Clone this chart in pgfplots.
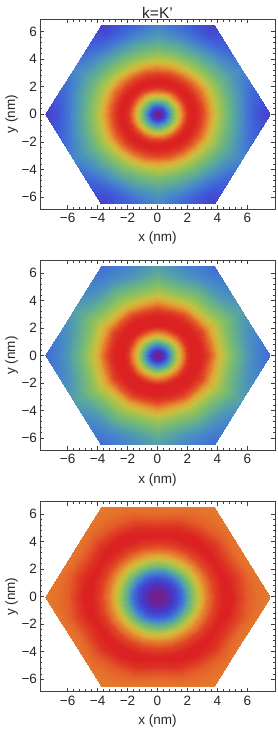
\documentclass[border=0pt]{standalone}
\usepackage{fontspec}
\setmainfont{Liberation Sans}
\usepackage{pgfplots}
\usepackage{pgfplotstable}
\pgfplotsset{compat=1.18}
\newcommand{\lbl}{\fontsize{13.5}{16}\selectfont}
\newcommand{\ttl}{\fontsize{15.5}{18}\selectfont}

\pgfplotsset{colormap={mrainbow}{rgb=(0.471,0.108,0.527) rgb=(0.282,0.212,0.776) rgb=(0.245,0.373,0.856) rgb=(0.278,0.536,0.786) rgb=(0.354,0.655,0.617) rgb=(0.472,0.731,0.447) rgb=(0.632,0.762,0.319) rgb=(0.790,0.749,0.248) rgb=(0.885,0.636,0.206) rgb=(0.898,0.419,0.167) rgb=(0.857,0.131,0.132)}}

% r (nm), angle t (deg, 0 = towards hexagon corner, 30 = towards edge midpoint), value c
\pgfplotstableread[row sep=\\]{
r t c\\
0 0 0\\ 0 15 0\\ 0 30 0\\
0.25 0 .05\\ 0.25 15 .05\\ 0.25 30 .05\\
0.5 0 .16\\ 0.5 15 .16\\ 0.5 30 .16\\
0.75 0 .31\\ 0.75 15 .31\\ 0.75 30 .31\\
1.0 0 .47\\ 1.0 15 .47\\ 1.0 30 .47\\
1.25 0 .64\\ 1.25 15 .64\\ 1.25 30 .64\\
1.5 0 .80\\ 1.5 15 .80\\ 1.5 30 .80\\
1.75 0 .92\\ 1.75 15 .92\\ 1.75 30 .92\\
2.0 0 .98\\ 2.0 15 .98\\ 2.0 30 .98\\
2.25 0 1\\ 2.25 15 1\\ 2.25 30 1\\
2.5 0 1\\ 2.5 15 1\\ 2.5 30 1\\
2.75 0 .98\\ 2.75 15 .98\\ 2.75 30 .98\\
3.0 0 .95\\ 3.0 15 .95\\ 3.0 30 .95\\
3.25 0 .90\\ 3.25 15 .90\\ 3.25 30 .90\\
3.5 0 .82\\ 3.5 15 .82\\ 3.5 30 .83\\
3.75 0 .73\\ 3.75 15 .73\\ 3.75 30 .75\\
4.0 0 .65\\ 4.0 15 .65\\ 4.0 30 .67\\
4.25 0 .58\\ 4.25 15 .58\\ 4.25 30 .60\\
4.5 0 .52\\ 4.5 15 .52\\ 4.5 30 .54\\
4.75 0 .47\\ 4.75 15 .47\\ 4.75 30 .49\\
5.0 0 .42\\ 5.0 15 .43\\ 5.0 30 .45\\
5.25 0 .37\\ 5.25 15 .39\\ 5.25 30 .41\\
5.5 0 .33\\ 5.5 15 .35\\ 5.5 30 .38\\
5.75 0 .29\\ 5.75 15 .31\\ 5.75 30 .35\\
6.0 0 .25\\ 6.0 15 .28\\ 6.0 30 .33\\
6.75 0 .16\\ 6.362 15 .24\\ 6.248 30 .31\\
7.5 0 .12\\ 6.724 15 .21\\ 6.495 30 .30\\
}\tabA

\pgfplotstableread[row sep=\\]{
r t c\\
0 0 0\\ 0 15 0\\ 0 30 0\\
0.25 0 .04\\ 0.25 15 .04\\ 0.25 30 .04\\
0.5 0 .14\\ 0.5 15 .14\\ 0.5 30 .14\\
0.75 0 .28\\ 0.75 15 .28\\ 0.75 30 .28\\
1.0 0 .44\\ 1.0 15 .44\\ 1.0 30 .44\\
1.25 0 .62\\ 1.25 15 .62\\ 1.25 30 .62\\
1.5 0 .78\\ 1.5 15 .78\\ 1.5 30 .78\\
1.75 0 .90\\ 1.75 15 .90\\ 1.75 30 .90\\
2.0 0 .97\\ 2.0 15 .97\\ 2.0 30 .97\\
2.25 0 1\\ 2.25 15 1\\ 2.25 30 1\\
2.5 0 1\\ 2.5 15 1\\ 2.5 30 1\\
2.75 0 1\\ 2.75 15 1\\ 2.75 30 1\\
3.0 0 .99\\ 3.0 15 .99\\ 3.0 30 .99\\
3.25 0 .97\\ 3.25 15 .96\\ 3.25 30 .97\\
3.5 0 .93\\ 3.5 15 .91\\ 3.5 30 .93\\
3.75 0 .86\\ 3.75 15 .84\\ 3.75 30 .87\\
4.0 0 .78\\ 4.0 15 .76\\ 4.0 30 .80\\
4.25 0 .70\\ 4.25 15 .68\\ 4.25 30 .73\\
4.5 0 .63\\ 4.5 15 .61\\ 4.5 30 .66\\
4.75 0 .57\\ 4.75 15 .55\\ 4.75 30 .60\\
5.0 0 .52\\ 5.0 15 .50\\ 5.0 30 .55\\
5.25 0 .47\\ 5.25 15 .46\\ 5.25 30 .51\\
5.5 0 .43\\ 5.5 15 .42\\ 5.5 30 .47\\
5.75 0 .39\\ 5.75 15 .38\\ 5.75 30 .44\\
6.0 0 .35\\ 6.0 15 .35\\ 6.0 30 .41\\
6.75 0 .27\\ 6.362 15 .32\\ 6.248 30 .39\\
7.5 0 .23\\ 6.724 15 .30\\ 6.495 30 .37\\
}\tabB

\pgfplotstableread[row sep=\\]{
r t c\\
0 0 0\\ 0 15 0\\ 0 30 0\\
0.25 0 .01\\ 0.25 15 .01\\ 0.25 30 .01\\
0.5 0 .03\\ 0.5 15 .03\\ 0.5 30 .03\\
0.75 0 .06\\ 0.75 15 .06\\ 0.75 30 .06\\
1.0 0 .10\\ 1.0 15 .10\\ 1.0 30 .10\\
1.25 0 .14\\ 1.25 15 .14\\ 1.25 30 .14\\
1.5 0 .20\\ 1.5 15 .20\\ 1.5 30 .20\\
1.75 0 .28\\ 1.75 15 .28\\ 1.75 30 .28\\
2.0 0 .38\\ 2.0 15 .38\\ 2.0 30 .38\\
2.25 0 .49\\ 2.25 15 .49\\ 2.25 30 .49\\
2.5 0 .60\\ 2.5 15 .60\\ 2.5 30 .60\\
2.75 0 .70\\ 2.75 15 .70\\ 2.75 30 .70\\
3.0 0 .79\\ 3.0 15 .79\\ 3.0 30 .79\\
3.25 0 .86\\ 3.25 15 .86\\ 3.25 30 .86\\
3.5 0 .91\\ 3.5 15 .91\\ 3.5 30 .91\\
3.75 0 .95\\ 3.75 15 .95\\ 3.75 30 .95\\
4.0 0 .97\\ 4.0 15 .97\\ 4.0 30 .97\\
4.25 0 .99\\ 4.25 15 .99\\ 4.25 30 .99\\
4.5 0 1\\ 4.5 15 1\\ 4.5 30 1\\
4.75 0 1\\ 4.75 15 1\\ 4.75 30 .99\\
5.0 0 1\\ 5.0 15 .99\\ 5.0 30 .98\\
5.25 0 .98\\ 5.25 15 .98\\ 5.25 30 .96\\
5.5 0 .96\\ 5.5 15 .96\\ 5.5 30 .94\\
5.75 0 .94\\ 5.75 15 .94\\ 5.75 30 .92\\
6.0 0 .92\\ 6.0 15 .92\\ 6.0 30 .90\\
6.75 0 .89\\ 6.362 15 .90\\ 6.248 30 .89\\
7.5 0 .87\\ 6.724 15 .88\\ 6.495 30 .88\\
}\tabC

\pgfplotsset{
  hexpanel/.style={
    width=235pt, height=190pt, scale only axis,
    xmin=-7.85, xmax=7.85, ymin=-6.9, ymax=6.9,
    xtick={-6,-4,-2,0,2,4,6}, xticklabels={−6,−4,−2,0,2,4,6},
    ytick={-6,-4,-2,0,2,4,6}, yticklabels={−6,−4,−2,0,2,4,6},
    minor tick num=4, tick align=inside,
    major tick length=4pt, minor tick length=2.3pt,
    axis line style={black!75, line width=0.7pt},
    every tick/.style={black!75, line width=0.6pt},
    xticklabel style={font=\lbl, text=black!85, yshift=-0.5pt},
    yticklabel style={font=\lbl, text=black!85, xshift=0.5pt},
    xlabel={x (nm)}, ylabel={y (nm)},
    every axis x label/.style={at={(axis description cs:0.5,-0.153)}, anchor=center, font=\lbl, text=black!85},
    every axis y label/.style={at={(axis description cs:-0.1204,0.5)}, rotate=90, anchor=center, font=\lbl, text=black!85},
    every axis title/.style={at={(axis description cs:0.5,1.034)}, anchor=center, font=\ttl, text=black!85},
    colormap name=mrainbow, point meta min=0, point meta max=1,
    axis on top,
  },
  hexsurf/.style={surf, shader=interp, mesh/cols=3, point meta=\thisrow{c}},
}

\newcommand{\hexplots}[1]{%
  \pgfplotsinvokeforeach{0,60,120,180,240,300}{
    \addplot[hexsurf] table[x expr={\thisrow{r}*cos(##1+\thisrow{t})}, y expr={\thisrow{r}*sin(##1+\thisrow{t})}]{#1};
    \addplot[hexsurf] table[x expr={\thisrow{r}*cos(##1-\thisrow{t})}, y expr={\thisrow{r}*sin(##1-\thisrow{t})}]{#1};
  }%
}

\begin{document}
\begin{tikzpicture}
\useasboundingbox (0,0) rectangle (277pt,731pt);
\begin{axis}[hexpanel, at={(40pt,521.7pt)}, anchor=south west, title={k=K'}]
\hexplots{\tabA}
\end{axis}
\begin{axis}[hexpanel, at={(40pt,280.5pt)}, anchor=south west]
\hexplots{\tabB}
\end{axis}
\begin{axis}[hexpanel, at={(40pt,39.3pt)}, anchor=south west]
\hexplots{\tabC}
\end{axis}
\end{tikzpicture}
\end{document}
